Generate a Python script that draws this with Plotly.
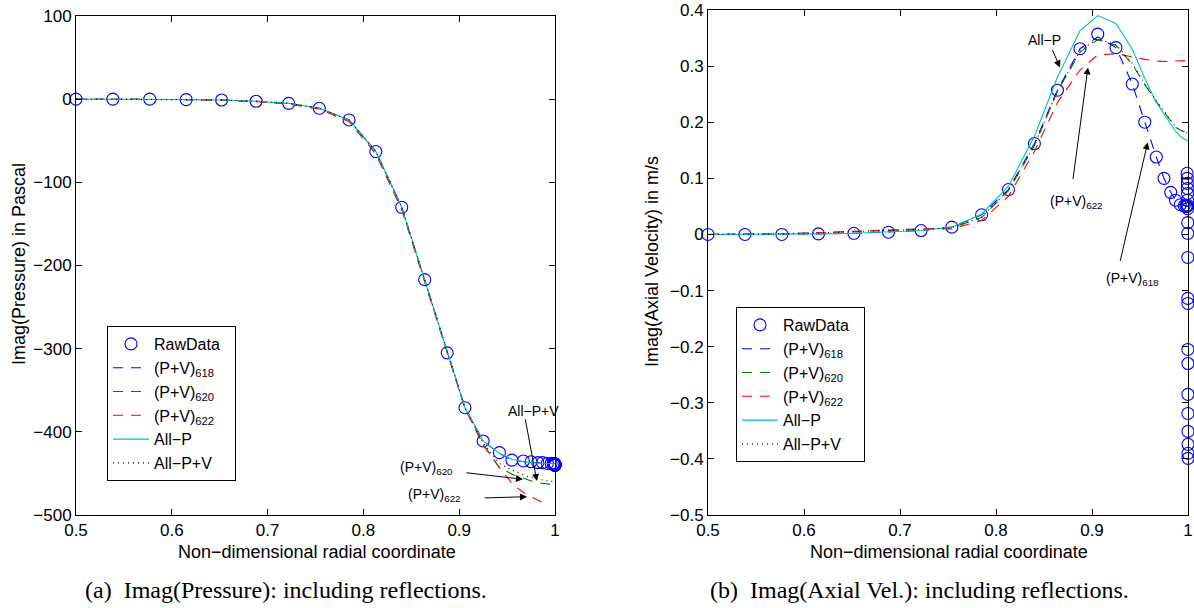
import plotly.graph_objects as go

# ---------------- data ----------------
# radial grid of the fitted curves
r_fit = [0.5, 0.5385, 0.577, 0.615, 0.652, 0.688, 0.722, 0.754, 0.785, 0.813,
         0.84, 0.864, 0.8875, 0.906, 0.925, 0.942, 0.955, 0.967, 0.975, 0.982,
         0.987, 0.992, 0.996, 1.0]

# radial positions of the raw data (clustered at the wall)
r_raw = [0.5, 0.5385, 0.577, 0.615, 0.652, 0.688, 0.722, 0.754, 0.785, 0.813,
         0.84, 0.864, 0.8875, 0.906, 0.925, 0.942, 0.955, 0.967, 0.975, 0.982,
         0.987, 0.992, 0.996, 0.998, 0.999,
         0.9991, 0.9992, 0.9993, 0.9994, 0.9995, 0.99955, 0.9996, 0.99965, 0.9997,
         0.99975, 0.9998, 0.99983, 0.99986, 0.99988, 0.9999, 0.99992, 0.99994,
         0.99996, 0.99998, 0.99999, 1.0]

# (a) Imag(Pressure)
p_raw = [0, 0, 0, -0.5, -1, -2.5, -5, -11, -25, -63,
         -130, -217, -305, -371, -411, -425, -434, -435, -436, -437,
         -437, -438, -438, -438, -438,
         -438, -438, -439, -439, -439, -439, -439, -439, -439,
         -439, -439, -439, -439, -439, -440, -440, -440,
         -440, -440, -440, -440]
p_618 = [0, 0, 0, -0.5, -1, -2.5, -5, -11, -25, -63,
         -130, -217, -305, -371, -411, -426, -434, -436, -437, -437,
         -438, -438, -438, -438]
p_620 = [0, 0, 0, -0.5, -1, -2.5, -5, -11, -25, -63,
         -130, -217, -305, -371, -416, -443, -451, -456, -459, -461,
         -462, -463, -463.5, -464]
r_622a = [0.5, 0.5385, 0.577, 0.615, 0.652, 0.688, 0.722, 0.754, 0.785, 0.813,
          0.84, 0.864, 0.8875, 0.906, 0.925, 0.942, 0.955, 0.967, 0.975, 0.982,
          0.987]
p_622 = [0, 0, 0, -0.5, -1.5, -3, -6, -12, -27, -66,
         -133, -219, -306, -372, -415, -443, -462, -473, -478, -482,
         -485]
p_allp = [0, 0, 0, -0.5, -1, -2.5, -5, -11, -25, -63,
          -130, -217, -305, -371, -411, -426, -433, -436, -437, -438,
          -438, -438, -438, -438]
p_allpv = [0, 0, 0, -0.5, -1, -2.5, -5, -11, -25, -63,
           -130, -217, -305, -371, -413, -438, -446, -452, -455, -457,
           -458, -459, -459.5, -460]

# (b) Imag(Axial velocity)
u_raw = [0.0, 0.0, 0.0, 0.001, 0.002, 0.004, 0.007, 0.013, 0.035, 0.08,
         0.162, 0.257, 0.331, 0.357, 0.333, 0.268, 0.2, 0.138, 0.1, 0.075,
         0.061, 0.053, 0.051, 0.05, 0.05,
         0.109, 0.100, 0.091, 0.082, 0.073, 0.061, 0.052, 0.046, 0.021,
         0.002, -0.041, -0.114, -0.123, -0.205, -0.230, -0.285, -0.319,
         -0.351, -0.374, -0.390, -0.399]
u_618 = [0.0, 0.0, 0.0, 0.001, 0.002, 0.004, 0.007, 0.013, 0.035, 0.08,
         0.162, 0.257, 0.331, 0.352, 0.333, 0.268, 0.2, 0.138, 0.1, 0.075,
         0.061, 0.053, 0.051, 0.05]
u_620 = [0.0, 0.0, 0.001, 0.003, 0.005, 0.007, 0.009, 0.012, 0.03, 0.078,
         0.158, 0.255, 0.325, 0.347, 0.337, 0.303, 0.267, 0.237, 0.218, 0.201,
         0.191, 0.186, 0.183, 0.18]
u_622 = [0.0, 0.0, 0.001, 0.003, 0.006, 0.008, 0.01, 0.01, 0.025, 0.068,
         0.148, 0.235, 0.293, 0.32, 0.322, 0.316, 0.312, 0.309, 0.308, 0.308,
         0.309, 0.309, 0.31, 0.31]
u_allp = [0.0, 0.0, 0.0, 0.001, 0.002, 0.004, 0.007, 0.013, 0.036, 0.086,
          0.175, 0.28, 0.363, 0.39, 0.376, 0.33, 0.278, 0.235, 0.215, 0.198,
          0.184, 0.175, 0.17, 0.167]
u_allpv = [0.0, 0.0, 0.001, 0.003, 0.005, 0.007, 0.009, 0.012, 0.031, 0.079,
           0.159, 0.256, 0.327, 0.349, 0.338, 0.305, 0.268, 0.238, 0.219, 0.202,
           0.192, 0.186, 0.183, 0.18]

x_ticks = [0.5, 0.6, 0.7, 0.8, 0.9, 1.0]
x_ticktext = ["0.5", "0.6", "0.7", "0.8", "0.9", "1"]
p_ticks = [100, 0, -100, -200, -300, -400, -500]
p_ticktext = ["100", "0", "\u2212100", "\u2212200", "\u2212300", "\u2212400", "\u2212500"]
u_ticks = [0.4, 0.3, 0.2, 0.1, 0.0, -0.1, -0.2, -0.3, -0.4, -0.5]
u_ticktext = ["0.4", "0.3", "0.2", "0.1", "0", "\u22120.1", "\u22120.2", "\u22120.3", "\u22120.4", "\u22120.5"]

names = ["RawData", "(P+V)<sub>618</sub>", "(P+V)<sub>620</sub>", "(P+V)<sub>622</sub>",
         "All\u2212P", "All\u2212P+V"]

# ---------------- styles ----------------
SANS = "Liberation Sans, Arial, Helvetica, sans-serif"
SERIF = "Liberation Serif, Times New Roman, serif"
BLUE = "#0000ff"
GREEN = "#008000"
RED = "#ff0000"
CYAN = "#00bfbf"
BLACK = "#000000"
LW = 1.1
PAD = "\u00a0\u00a0\u00a0\u00a0"   # invisible padding to widen the legend box

fig = go.Figure()


def add_set(xa, ya, leg, raw_y, y618, y620, x622, y622, yallp, yallpv):
    fig.add_trace(go.Scatter(x=r_raw, y=raw_y, mode="markers", name=names[0],
                             marker=dict(symbol="circle-open", size=12,
                                         color=BLUE, line=dict(width=1.1, color=BLUE)),
                             cliponaxis=False, xaxis=xa, yaxis=ya, legend=leg))
    fig.add_trace(go.Scatter(x=r_fit, y=y618, mode="lines", name=names[1],
                             line=dict(color=BLUE, width=LW, dash="10px,8px"),
                             xaxis=xa, yaxis=ya, legend=leg))
    fig.add_trace(go.Scatter(x=r_fit, y=y620, mode="lines", name=names[2],
                             line=dict(color=GREEN, width=LW, dash="10px,8px"),
                             xaxis=xa, yaxis=ya, legend=leg))
    fig.add_trace(go.Scatter(x=x622, y=y622, mode="lines", name=names[3],
                             line=dict(color=RED, width=LW, dash="10px,8px"),
                             xaxis=xa, yaxis=ya, legend=leg))
    fig.add_trace(go.Scatter(x=r_fit, y=yallp, mode="lines", name=names[4],
                             line=dict(color=CYAN, width=LW),
                             xaxis=xa, yaxis=ya, legend=leg))
    fig.add_trace(go.Scatter(x=r_fit, y=yallpv, mode="lines", name=names[5] + PAD,
                             line=dict(color=BLACK, width=LW, dash="1px,4px"),
                             xaxis=xa, yaxis=ya, legend=leg))


add_set("x", "y", "legend", p_raw, p_618, p_620, r_622a, p_622, p_allp, p_allpv)
add_set("x2", "y2", "legend2", u_raw, u_618, u_620, r_fit, u_622, u_allp, u_allpv)

W, H = 1194, 608


def px(v):
    return v / W


def py(v):
    return 1 - v / H


axis_common = dict(showline=True, linecolor="black", linewidth=1, mirror="ticks",
                   ticks="inside", ticklen=6, tickwidth=1, tickcolor="black",
                   showgrid=False, zeroline=False, automargin=False,
                   tickfont=dict(family=SANS, size=17, color="black"))

legend_common = dict(xanchor="left", yanchor="top", bgcolor="white",
                     bordercolor="black", borderwidth=1,
                     font=dict(family=SANS, size=16, color="black"),
                     tracegroupgap=0, itemwidth=36)

fig.update_layout(
    template="none",
    width=W, height=H, autosize=False,
    margin=dict(l=0, r=0, t=0, b=0, pad=0),
    paper_bgcolor="white", plot_bgcolor="white",
    font=dict(family=SANS, color="black"),
    showlegend=True,
    xaxis=dict(domain=[px(76), px(555)], range=[0.5, 1.0], anchor="y",
               tickvals=x_ticks, ticktext=x_ticktext, **axis_common),
    yaxis=dict(domain=[py(515), py(16)], range=[-500, 100], anchor="x",
               tickvals=p_ticks, ticktext=p_ticktext, **axis_common),
    xaxis2=dict(domain=[px(708), px(1188)], range=[0.5, 1.0], anchor="y2",
                tickvals=x_ticks, ticktext=x_ticktext, **axis_common),
    yaxis2=dict(domain=[py(515), py(10)], range=[-0.5, 0.4], anchor="x2",
                tickvals=u_ticks, ticktext=u_ticktext, **axis_common),
    legend=dict(x=px(107), y=py(326), **legend_common),
    legend2=dict(x=px(736), y=py(307), **legend_common),
)

annotations = []


def paper_text(txt, x, y, size, family=SANS, angle=0):
    return dict(text=txt, x=px(x), y=py(y), xref="paper", yref="paper",
                xanchor="center", yanchor="middle", textangle=angle,
                showarrow=False, font=dict(family=family, size=size, color="black"))


# axis titles and captions
annotations += [
    paper_text("Non\u2212dimensional radial coordinate", 317, 552, 18),
    paper_text("Non\u2212dimensional radial coordinate", 949, 552, 18),
    paper_text("Imag(Pressure) in Pascal", 19, 264, 18, angle=-90),
    paper_text("Imag(Axial Velocity) in m/s", 652, 262, 18, angle=-90),
    paper_text("(a)\u00a0\u00a0Imag(Pressure): including reflections.", 286, 590, 24, SERIF),
    paper_text("(b)\u00a0\u00a0Imag(Axial Vel.): including reflections.", 919, 590, 24, SERIF),
]

ann_font = dict(family=SANS, size=14, color="black")


def arrow(xr, yr, x_head, y_head, x_tail, y_tail):
    return dict(text="", x=x_head, y=y_head, ax=x_tail, ay=y_tail,
                xref=xr, yref=yr, axref=xr, ayref=yr, showarrow=True,
                arrowhead=2, arrowsize=1.4, arrowwidth=1, arrowcolor="black")


def label(xr, yr, txt, x, y):
    return dict(text=txt, x=x, y=y, xref=xr, yref=yr, xanchor="center",
                yanchor="middle", showarrow=False, font=ann_font)


# left plot annotations
annotations += [
    label("x", "y", "All\u2212P+V", 0.978, -375),
    arrow("x", "y", 0.981, -459, 0.9687, -383),
    label("x", "y", "(P+V)<sub>620</sub>", 0.866, -444),
    arrow("x", "y", 0.9666, -457, 0.906, -449),
    label("x", "y", "(P+V)<sub>622</sub>", 0.8737, -476),
    arrow("x", "y", 0.9708, -478, 0.925, -479.5),
]
# right plot annotations
annotations += [
    label("x2", "y2", "All\u2212P", 0.85, 0.346),
    arrow("x2", "y2", 0.8667, 0.2977, 0.858, 0.3316),
    label("x2", "y2", "(P+V)<sub>622</sub>", 0.884, 0.058),
    arrow("x2", "y2", 0.8958, 0.2977, 0.880, 0.0963),
    label("x2", "y2", "(P+V)<sub>618</sub>", 0.9417, -0.08),
    arrow("x2", "y2", 0.958, 0.164, 0.929, -0.05),
]

fig.update_layout(annotations=annotations)

fig.write_html("out.html", config={"displayModeBar": False},
               post_script="document.body.style.margin='0px';")
